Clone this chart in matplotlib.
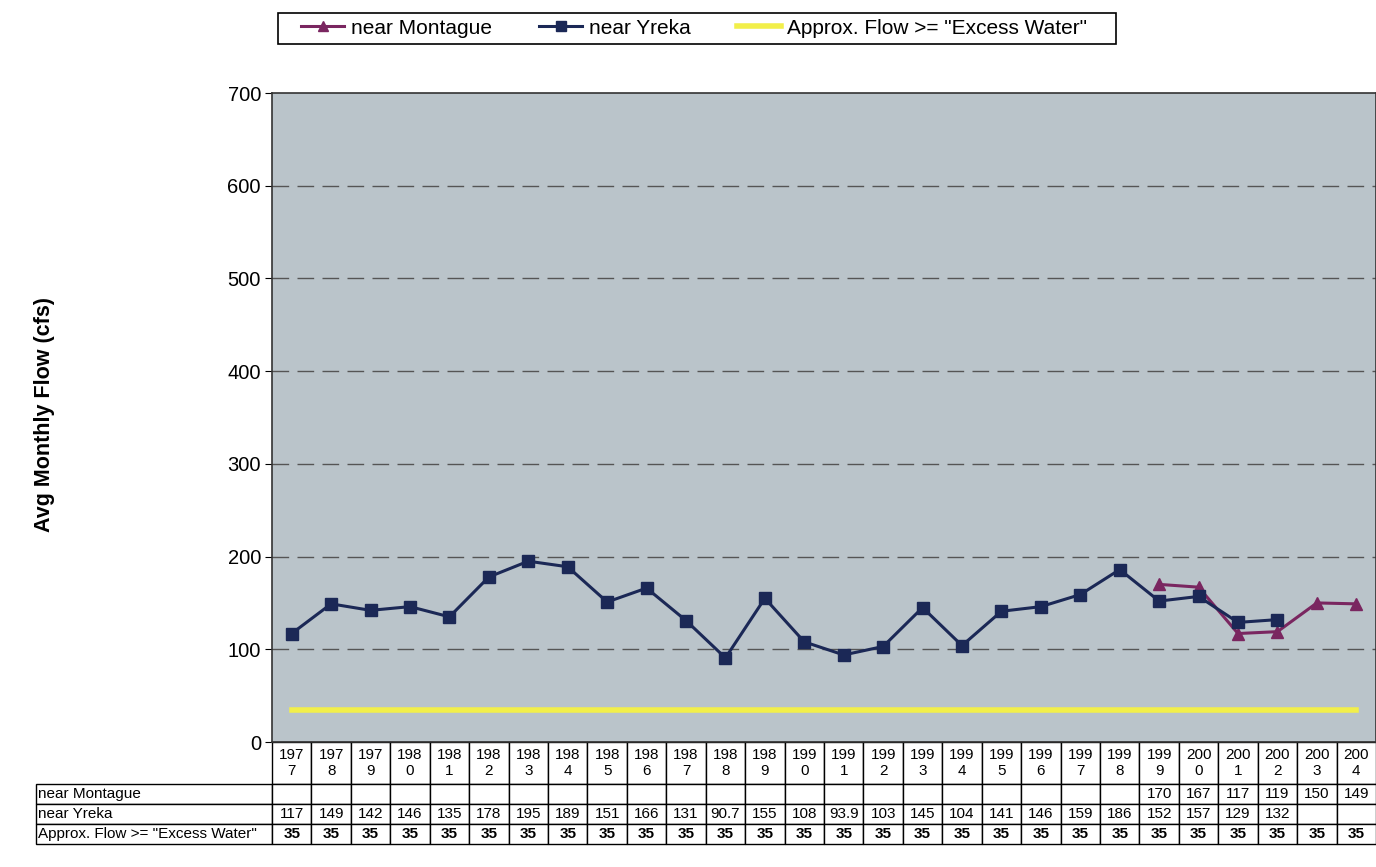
import numpy as np
import matplotlib.pyplot as plt
from matplotlib.patches import Rectangle

plt.rcParams['font.family'] = ['Liberation Sans', 'DejaVu Sans']

years = list(range(1977, 2005))
montague = [None] * 22 + [170, 167, 117, 119, 150, 149]
yreka = [117, 149, 142, 146, 135, 178, 195, 189, 151, 166, 131, 90.7, 155, 108,
         93.9, 103, 145, 104, 141, 146, 159, 186, 152, 157, 129, 132, None, None]
excess = [35] * 28

row_labels = ['near Montague', 'near Yreka', 'Approx. Flow >= "Excess Water"']

fig = plt.figure(figsize=(13.76, 8.67), dpi=100)
ax = fig.add_axes([272 / 1376, 1 - 742 / 867, 1104 / 1376, 649 / 867])
ax.set_facecolor('#bac4ca')

x = np.arange(len(years))
m = np.array([np.nan if v is None else v for v in montague], dtype=float)
y = np.array([np.nan if v is None else v for v in yreka], dtype=float)

ax.plot(x, excess, color='#f2ef4a', lw=4, label='Approx. Flow >= "Excess Water"', zorder=2)
ax.plot(x, y, color='#1b2856', lw=2.2, marker='s', ms=8, label='near Yreka', zorder=4)
ax.plot(x, m, color='#7a2660', lw=2.2, marker='^', ms=8, label='near Montague', zorder=3)

ax.set_xlim(-0.5, len(years) - 0.5)
ax.set_ylim(0, 700)
ax.set_yticks(range(0, 701, 100))
ax.tick_params(axis='y', labelsize=14.5, length=5, direction='out', pad=3)
ax.set_xticks([])
for v in range(100, 700, 100):
    ax.axhline(v, color='#555555', lw=1, dashes=(12, 6), zorder=1)
for s in ax.spines.values():
    s.set_color('#333333')
    s.set_linewidth(1.2)

fig.text(45 / 1376, 1 - 415 / 867, 'Avg Monthly Flow (cfs)', rotation=90,
         ha='center', va='center', fontsize=15.5, fontweight='bold')

# data table under the axis: year header row + one row per series
def fmt(v):
    return '' if v is None else ('%g' % v)

cells = [[''] + ['%d\n%d' % (yr // 10, yr % 10) for yr in years]]
cells.append([row_labels[0]] + [fmt(v) for v in montague])
cells.append([row_labels[1]] + [fmt(v) for v in yreka])
cells.append([row_labels[2]] + [fmt(v) for v in excess])

col_w = [236] + [1104 / 28] * 28
row_h = [42, 20, 20, 20]
x0 = (36 - 272) / 1104
tb = ax.table(cellText=cells, colWidths=[w / 1340 for w in col_w],
              cellLoc='center', bbox=[x0, -102 / 649, 1340 / 1104, 102 / 649])
tb.auto_set_font_size(False)
for (r, c), cell in tb.get_celld().items():
    cell.set_height(row_h[r] / 102)
    cell.set_linewidth(1)
    cell.set_edgecolor('black')
    cell.get_text().set_fontsize(11)
    if c == 0:
        cell.get_text().set_ha('left')
        cell._loc = 'left'
        cell.PAD = 0.01
    if r == 0 and c == 0:
        cell.visible_edges = ''
    if r == 3 and c > 0:
        cell.get_text().set_fontweight('bold')
    if r == 0:
        cell.get_text().set_linespacing(1.1)

# legend entries without the default frame; box drawn separately for wider side padding
h, l = ax.get_legend_handles_labels()
order = [2, 1, 0]
leg = fig.legend([h[i] for i in order], [l[i] for i in order], ncol=3,
                 loc='center', bbox_to_anchor=(694 / 1376, 1 - 28 / 867),
                 fontsize=15, frameon=False,
                 handlelength=2.1, handletextpad=0.3, columnspacing=2.25,
                 borderpad=0.25, markerscale=0.85)
fig.patches.append(Rectangle((278 / 1376, 1 - 44 / 867), 838 / 1376, 31 / 867,
                             transform=fig.transFigure, fill=False,
                             edgecolor='black', lw=1.2))

fig.savefig('out.png', dpi=100)
